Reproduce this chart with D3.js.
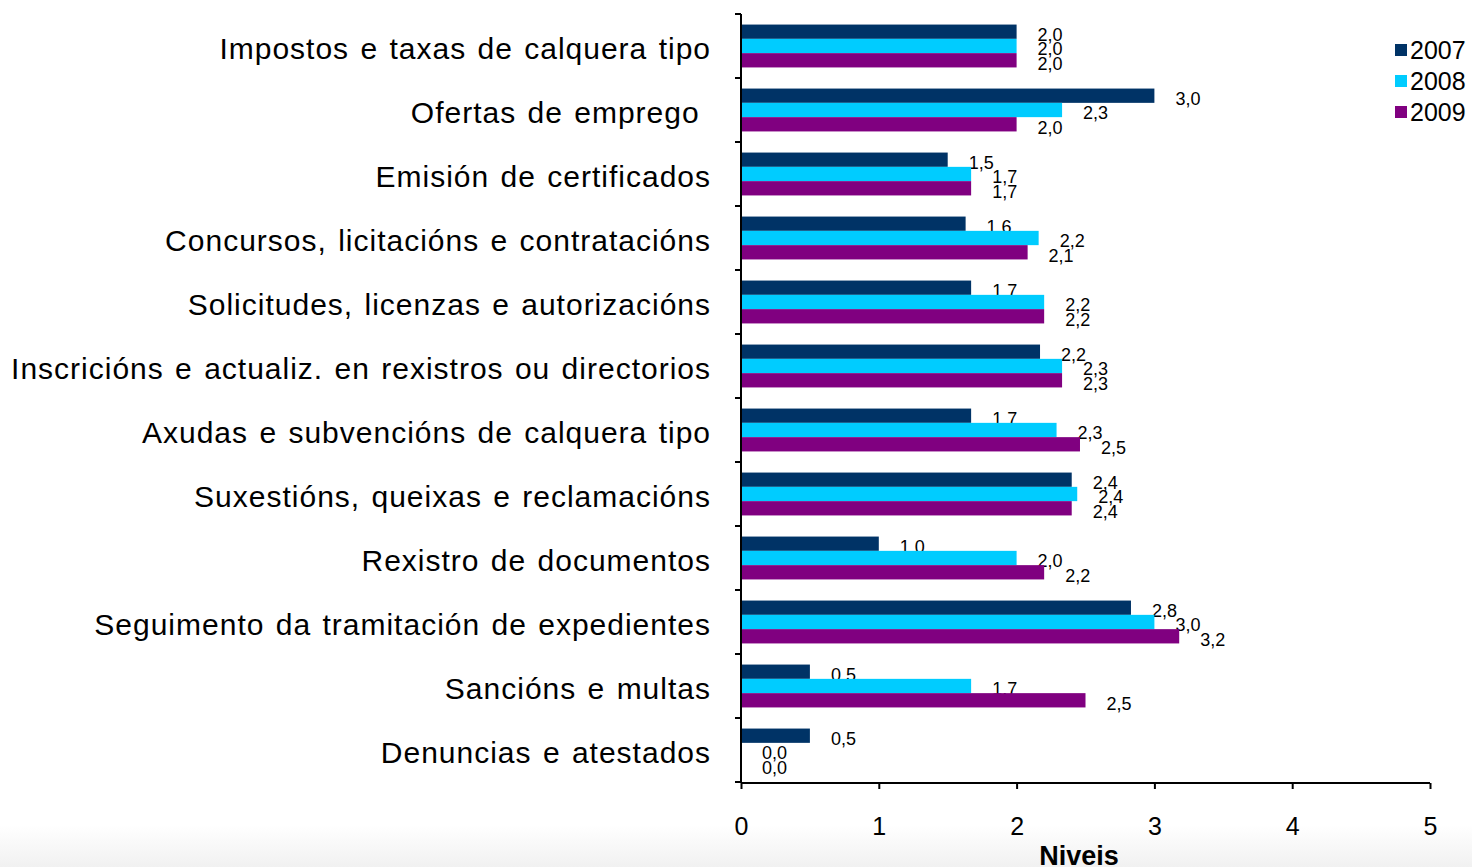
<!DOCTYPE html>
<html lang="gl">
<head>
<meta charset="UTF-8">
<title>Niveis</title>
<script src="https://d3js.org/d3.v7.min.js"></script>
<style>
  body { margin: 0; background: #fff; }
  svg { display: block; font-family: "Liberation Sans", Arial, sans-serif; }
  .cat { white-space: pre; letter-spacing: 1px; word-spacing: 2px; }
</style>
</head>
<body>
<svg width="1472" height="867"></svg>
<script>
// categories, top to bottom
var categories = [
  "Impostos e taxas de calquera tipo",
  "Ofertas de emprego ",
  "Emisión de certificados",
  "Concursos, licitacións e contratacións",
  "Solicitudes, licenzas e autorizacións",
  "Inscricións e actualiz. en rexistros ou directorios",
  "Axudas e subvencións de calquera tipo",
  "Suxestións, queixas e reclamacións",
  "Rexistro de documentos",
  "Seguimento da tramitación de expedientes",
  "Sancións e multas",
  "Denuncias e atestados"
];
var series = ["2007", "2008", "2009"];
var v2007 = [2.0, 3.0, 1.5, 1.63, 1.67, 2.17, 1.67, 2.4, 1.0, 2.83, 0.5, 0.5];
var v2008 = [2.0, 2.33, 1.67, 2.16, 2.2, 2.33, 2.29, 2.44, 2.0, 3.0, 1.67, 0.0];
var v2009 = [2.0, 2.0, 1.67, 2.08, 2.2, 2.33, 2.46, 2.4, 2.2, 3.18, 2.5, 0.0];
var xTicks = [0, 1, 2, 3, 4, 5];
var colors = ["#003366", "#00ccff", "#800080"];

var values = [v2007, v2008, v2009];
var svg = d3.select("svg");

// light grey band at the bottom of the slide
var grad = svg.append("defs").append("linearGradient")
  .attr("id", "bg").attr("x1", 0).attr("y1", 0).attr("x2", 0).attr("y2", 1);
grad.append("stop").attr("offset", "0").attr("stop-color", "#ffffff");
grad.append("stop").attr("offset", "1").attr("stop-color", "#f1f1f1");
svg.append("rect").attr("x", 0).attr("y", 825).attr("width", 1472).attr("height", 42)
  .attr("fill", "url(#bg)");

var x = d3.scaleLinear().domain([0, 5]).range([741, 1430]);
var y = d3.scaleBand().domain(categories).range([14, 782]).paddingInner(0.33).paddingOuter(0.165);
var ys = d3.scaleBand().domain(series).range([0, y.bandwidth()]);

var fmt = function (v) { return d3.format(".1f")(v).replace(".", ","); };

// bars
series.forEach(function (s, si) {
  var g = svg.append("g");
  g.selectAll("rect")
    .data(categories)
    .enter().append("rect")
    .attr("x", x(0))
    .attr("y", function (c) { return y(c) + ys(s); })
    .attr("width", function (c, i) { return x(values[si][i]) - x(0); })
    .attr("height", ys.bandwidth())
    .attr("fill", colors[si]);
  g.selectAll("text")
    .data(categories)
    .enter().append("text")
    .attr("x", function (c, i) { return x(values[si][i]) + 21; })
    .attr("y", function (c) { return y(c) + ys(s) + ys.bandwidth() / 2 + 3; })
    .attr("dy", "0.35em")
    .attr("font-size", 18)
    .attr("fill", "#000")
    .text(function (c, i) { return fmt(values[si][i]); });
});

// y axis with ticks at category boundaries
var yAxisG = svg.append("g");
yAxisG.append("line").attr("x1", 741).attr("x2", 741).attr("y1", 14).attr("y2", 783)
  .attr("stroke", "#000").attr("stroke-width", 2);
var bounds = categories.map(function (c) { return y(c) - y.step() * y.paddingInner() / 2; });
bounds.push(782);
yAxisG.selectAll("line.tk").data(bounds).enter().append("line")
  .attr("class", "tk")
  .attr("x1", 735).attr("x2", 741)
  .attr("y1", function (d) { return d; }).attr("y2", function (d) { return d; })
  .attr("stroke", "#000").attr("stroke-width", 2);
yAxisG.selectAll("text").data(categories).enter().append("text")
  .attr("class", "cat")
  .attr("x", 711)
  .attr("y", function (c) { return y(c) + y.bandwidth() / 2 + 2; })
  .attr("dy", "0.35em")
  .attr("text-anchor", "end")
  .attr("font-size", 30)
  .attr("fill", "#000")
  .text(function (c) { return c; });

// x axis
var xAxis = d3.axisBottom(x).tickValues(xTicks).tickSize(6).tickPadding(28)
  .tickFormat(d3.format("d"));
var xg = svg.append("g").attr("transform", "translate(0,783)").call(xAxis);
xg.select(".domain").attr("stroke-width", 2).attr("d", "M741,0H1430");
xg.selectAll(".tick line").attr("stroke-width", 2);
xg.selectAll(".tick text").attr("font-size", 25).attr("fill", "#000")
  .attr("font-family", "'Liberation Sans Narrow', 'Liberation Sans', Arial, sans-serif");

svg.append("text")
  .attr("x", 1079).attr("y", 865)
  .attr("text-anchor", "middle")
  .attr("font-size", 27).attr("font-weight", "bold")
  .attr("font-family", "'Liberation Sans Narrow', 'Liberation Sans', Arial, sans-serif")
  .text("Niveis");

// legend
var lg = svg.append("g");
series.forEach(function (s, i) {
  var cy = 50 + i * 31;
  lg.append("rect").attr("x", 1395).attr("y", cy - 6).attr("width", 12).attr("height", 12)
    .attr("fill", colors[i]);
  lg.append("text").attr("x", 1410).attr("y", cy).attr("dy", "0.35em")
    .attr("font-size", 25).text(s);
});
</script>
</body>
</html>
